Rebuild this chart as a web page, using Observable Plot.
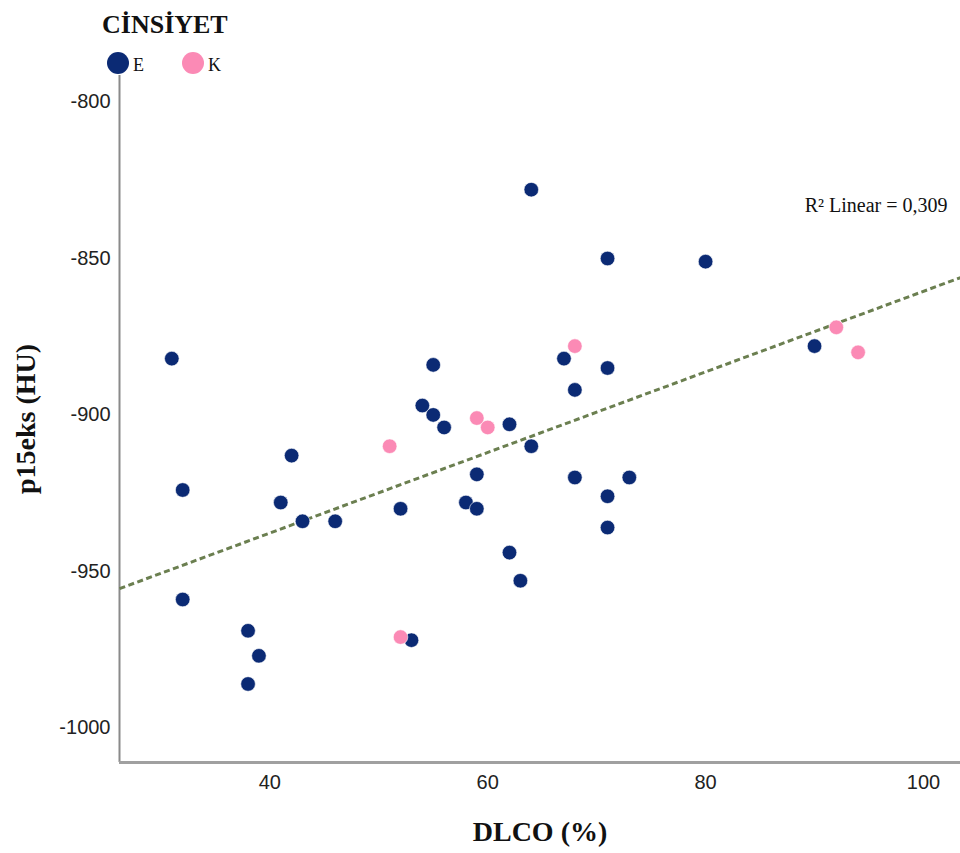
<!DOCTYPE html>
<html><head><meta charset="utf-8">
<script src="https://cdn.jsdelivr.net/npm/d3@7"></script>
<script src="https://cdn.jsdelivr.net/npm/@observablehq/plot@0.6"></script>
<style>
body{margin:0;background:#fff;}
#wrap{position:relative;width:960px;height:853px;overflow:hidden;}
#legend{position:absolute;left:0;top:0;}
</style>
</head><body>
<div id="wrap">
  <div id="chart"></div>
  <svg id="legend" width="300" height="80"></svg>
</div>
<script>
// Data
const legendTitle = "CİNSİYET";
const seriesNames = ["E", "K"];
const seriesColors = ["#0b2a74", "#fb8ab5"];
const eDlco = [31, 32, 32, 38, 39, 38, 42, 41, 43, 46, 52, 53, 54, 55, 55, 56, 58, 59, 59, 62, 62, 63, 64, 64, 67, 68, 68, 71, 71, 71, 71, 73, 80, 90];
const eHu   = [-882, -924, -959, -969, -977, -986, -913, -928, -934, -934, -930, -972, -897, -884, -900, -904, -928, -919, -930, -903, -944, -953, -828, -910, -882, -892, -920, -850, -885, -926, -936, -920, -851, -878];
const kDlco = [51, 52, 59, 60, 68, 92, 94];
const kHu   = [-910, -971, -901, -904, -878, -872, -880];
const xTicks = [40, 60, 80, 100];
const yTicks = [-1000, -950, -900, -850, -800];
const xDomain = [26.2, 103.4];
const yDomain = [-1011.1, -791.5];
const r2Text = "R² Linear = 0,309";

const data = [
  ...eDlco.map((x, i) => ({x, y: eHu[i], g: "E"})),
  ...kDlco.map((x, i) => ({x, y: kHu[i], g: "K"}))
];

// least-squares fit on all points, drawn across the whole x range
const mx = d3.mean(data, d => d.x), my = d3.mean(data, d => d.y);
const slope = d3.sum(data, d => (d.x - mx) * (d.y - my)) / d3.sum(data, d => (d.x - mx) ** 2);
const intercept = my - slope * mx;
const fitLine = xDomain.map(x => ({x, y: intercept + slope * x}));

// legend (above the plot area)
const leg = d3.select("#legend");
leg.append("text").attr("x", 102).attr("y", 33).text(legendTitle)
  .style("font-family", "Liberation Serif, serif").style("font-size", "26px").style("font-weight", "bold").style("fill", "#111");
seriesNames.forEach((n, i) => {
  const cx = 118 + i * 75;
  leg.append("circle").attr("cx", cx).attr("cy", 63).attr("r", 11).attr("fill", seriesColors[i]);
  leg.append("text").attr("x", cx + 15).attr("y", 71).text(n)
    .style("font-family", "Liberation Serif, serif").style("font-size", "18px").style("fill", "#111");
});

const tickFont = "Liberation Sans Narrow, Arial Narrow, Liberation Sans, sans-serif";
const chart = Plot.plot({
  width: 960,
  height: 853,
  marginTop: 75,
  marginLeft: 119,
  marginRight: 0,
  marginBottom: 91,
  style: {background: "#fff", overflow: "visible"},
  x: {domain: xDomain},
  y: {domain: yDomain},
  color: {domain: seriesNames, range: seriesColors},
  marks: [
    Plot.axisY({ticks: yTicks, tickSize: 0, tickPadding: 9, tickFormat: d => String(d),
      fontSize: 20, fontFamily: tickFont, fill: "#222",
      label: "p15eks (HU)", labelAnchor: "center", labelArrow: "none", labelOffset: 104}),
    Plot.axisX({ticks: xTicks, tickSize: 0, tickPadding: 12, tickFormat: d => String(d),
      fontSize: 20, fontFamily: tickFont, fill: "#222",
      label: "DLCO (%)", labelAnchor: "center", labelArrow: "none", labelOffset: 78}),
    Plot.ruleX([xDomain[0]], {stroke: "#8a8a8a", strokeWidth: 2}),
    Plot.ruleY([yDomain[0]], {stroke: "#a0a0a0", strokeWidth: 3}),
    Plot.line(fitLine, {x: "x", y: "y", stroke: "#6b7f50", strokeWidth: 3, strokeDasharray: "6,3.5", strokeLinecap: "butt"}),
    Plot.dot(data, {x: "x", y: "y", r: 7.3, fill: "g", stroke: "#fff", strokeWidth: 0.6}),
    Plot.text([r2Text], {frameAnchor: "top-right", dx: -13, dy: 122, text: d => d,
      fontSize: 20, fontFamily: "Liberation Serif, serif", fill: "#111", textAnchor: "end"})
  ]
});
document.getElementById("chart").appendChild(chart);
d3.select(chart).selectAll('g[aria-label="y-axis label"] text, g[aria-label="x-axis label"] text')
  .style("font-family", "Liberation Serif, serif").style("font-size", "28px").style("font-weight", "bold").style("fill", "#111");
d3.select(chart).selectAll('g[aria-label="line"] path')
  .attr("stroke-dasharray", "6,3.5");
</script>
</body></html>
